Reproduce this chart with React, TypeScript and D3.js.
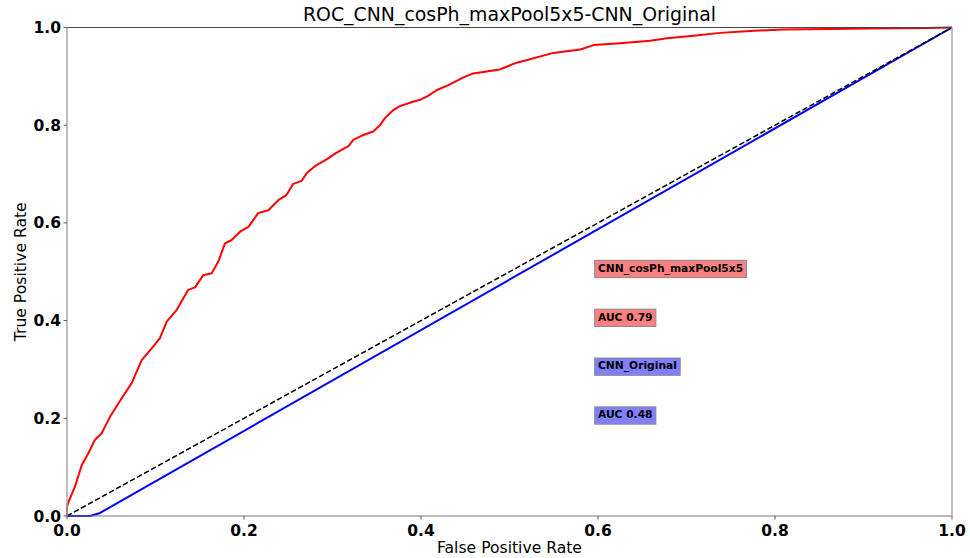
import React, { useEffect, useRef } from "react";
import * as d3 from "d3";

const chartTitle = "ROC_CNN_cosPh_maxPool5x5-CNN_Original";
const xLabel = "False Positive Rate";
const yLabel = "True Positive Rate";
const tickValues = [0, 0.2, 0.4, 0.6, 0.8, 1.0];

const redFpr = [0, 0, 0.0034, 0.009, 0.0166, 0.024, 0.0316, 0.039, 0.0486, 0.0618, 0.0731, 0.0844, 0.0957, 0.105, 0.1127, 0.124, 0.137, 0.1446, 0.154, 0.1635, 0.171, 0.1785, 0.186, 0.1955, 0.205, 0.216, 0.2275, 0.239, 0.248, 0.2557, 0.265, 0.271, 0.28, 0.2934, 0.3047, 0.318, 0.3235, 0.335, 0.346, 0.3537, 0.359, 0.3687, 0.376, 0.391, 0.399, 0.408, 0.418, 0.431, 0.448, 0.459, 0.489, 0.508, 0.519, 0.5495, 0.58, 0.595, 0.625, 0.659, 0.678, 0.708, 0.738, 0.772, 0.809, 0.862, 0.904, 0.971, 1.0];
const redTpr = [0, 0.02, 0.036, 0.06, 0.104, 0.128, 0.156, 0.169, 0.203, 0.241, 0.272, 0.319, 0.343, 0.364, 0.398, 0.422, 0.463, 0.468, 0.493, 0.497, 0.521, 0.558, 0.565, 0.582, 0.592, 0.62, 0.626, 0.647, 0.657, 0.68, 0.686, 0.702, 0.716, 0.73, 0.744, 0.757, 0.77, 0.78, 0.787, 0.8, 0.814, 0.831, 0.839, 0.848, 0.852, 0.86, 0.872, 0.882, 0.898, 0.906, 0.914, 0.928, 0.933, 0.948, 0.955, 0.964, 0.968, 0.973, 0.978, 0.983, 0.989, 0.993, 0.996, 0.997, 0.998, 0.999, 1.0];

const blueFpr = [0, 0.026, 0.0365, 1.0];
const blueTpr = [0, 0, 0.0055, 1.0];

const diagFpr = [0, 1];
const diagTpr = [0, 1];

const annotTexts = ["CNN_cosPh_maxPool5x5", "AUC 0.79", "CNN_Original", "AUC 0.48"];
const annotY = [0.5, 0.4, 0.3, 0.2];
const annotX = 0.6;
const annotColors = ["#ff8080", "#ff8080", "#8080ff", "#8080ff"];

const W = 970;
const H = 558;
const M = { left: 67, right: 952, top: 27.5, bottom: 516 };

export default function App() {
  const ref = useRef<SVGSVGElement | null>(null);

  useEffect(() => {
    document.body.style.margin = "0";
    document.body.style.overflow = "hidden";
    const svg = d3.select(ref.current);
    svg.selectAll("*").remove();
    const x = d3.scaleLinear().domain([0, 1]).range([M.left, M.right]);
    const y = d3.scaleLinear().domain([0, 1]).range([M.bottom, M.top]);
    const font = "DejaVu Sans, sans-serif";

    const line = d3.line<[number, number]>().x((d) => x(d[0])).y((d) => y(d[1]));
    const zip = (a: number[], b: number[]) => a.map((v, i) => [v, b[i]] as [number, number]);

    const clipId = "plotclip";
    svg.append("defs").append("clipPath").attr("id", clipId)
      .append("rect").attr("x", M.left - 2).attr("y", M.top - 2)
      .attr("width", M.right - M.left + 4).attr("height", M.bottom - M.top + 4);

    const g = svg.append("g").attr("clip-path", `url(#${clipId})`);

    g.append("path").attr("d", line(zip(redFpr, redTpr)) || "")
      .attr("fill", "none").attr("stroke", "#ff0000").attr("stroke-width", 2).attr("stroke-linejoin", "round");
    g.append("path").attr("d", line(zip(blueFpr, blueTpr)) || "")
      .attr("fill", "none").attr("stroke", "#0000ff").attr("stroke-width", 2);
    g.append("path").attr("d", line(zip(diagFpr, diagTpr)) || "")
      .attr("fill", "none").attr("stroke", "#000").attr("stroke-width", 1.5).attr("stroke-dasharray", "5.5,2.5");

    // spines
    svg.append("line").attr("x1", M.left).attr("x2", M.right).attr("y1", M.top).attr("y2", M.top).attr("stroke", "#444").attr("stroke-width", 1);
    svg.append("line").attr("x1", M.left).attr("x2", M.right).attr("y1", M.bottom).attr("y2", M.bottom).attr("stroke", "#777").attr("stroke-width", 1.2);
    svg.append("line").attr("x1", M.left).attr("x2", M.left).attr("y1", M.top).attr("y2", M.bottom).attr("stroke", "#aaa").attr("stroke-width", 1.5);
    svg.append("line").attr("x1", M.right).attr("x2", M.right).attr("y1", M.top).attr("y2", M.bottom).attr("stroke", "#aaa").attr("stroke-width", 1.5);

    // ticks
    const fmt = d3.format(".1f");
    tickValues.forEach((t) => {
      svg.append("line").attr("x1", x(t)).attr("x2", x(t)).attr("y1", M.bottom).attr("y2", M.bottom + 3.5).attr("stroke", "#333").attr("stroke-width", 0.8);
      svg.append("text").attr("x", x(t)).attr("y", M.bottom + 20).attr("text-anchor", "middle")
        .attr("font-family", font).attr("font-weight", "bold").attr("font-size", 15.5).attr("fill", "#000").text(fmt(t));
      svg.append("line").attr("x1", M.left - 3.5).attr("x2", M.left).attr("y1", y(t)).attr("y2", y(t)).attr("stroke", "#333").attr("stroke-width", 0.8);
      svg.append("text").attr("x", M.left - 6).attr("y", y(t)).attr("dy", "0.36em").attr("text-anchor", "end")
        .attr("font-family", font).attr("font-weight", "bold").attr("font-size", 15.5).attr("fill", "#000").text(fmt(t));
    });

    // title and labels
    svg.append("text").attr("x", (M.left + M.right) / 2).attr("y", 21).attr("text-anchor", "middle")
      .attr("font-family", font).attr("font-size", 18.9).attr("fill", "#000").text(chartTitle);
    svg.append("text").attr("x", (M.left + M.right) / 2).attr("y", 553).attr("text-anchor", "middle")
      .attr("font-family", font).attr("font-size", 15.6).attr("fill", "#000").text(xLabel);
    svg.append("text").attr("transform", `translate(26,${(M.top + M.bottom) / 2}) rotate(-90)`).attr("text-anchor", "middle")
      .attr("font-family", font).attr("font-size", 15.6).attr("fill", "#000").text(yLabel);

    // annotations
    const fs = 10.7;
    const pad = 3.3;
    annotTexts.forEach((txt, i) => {
      const ag = svg.append("g");
      const rect = ag.append("rect");
      const t = ag.append("text").attr("x", x(annotX)).attr("y", y(annotY[i]))
        .attr("font-family", font).attr("font-weight", "bold").attr("font-size", fs).attr("fill", "#000").text(txt);
      const w = (t.node() as SVGTextElement).getComputedTextLength();
      rect.attr("x", x(annotX) - pad).attr("y", y(annotY[i]) - fs * 0.76 - pad)
        .attr("width", w + 2 * pad).attr("height", fs * 1.0 + 2 * pad)
        .attr("fill", annotColors[i]).attr("stroke", "#888").attr("stroke-width", 1);
    });
  }, []);

  return (
    <div style={{ position: "fixed", left: 0, top: 0, width: W, height: H, overflow: "hidden" }}>
      <svg ref={ref} width={W} height={H} style={{ display: "block", background: "#fff" }} />
    </div>
  );
}
